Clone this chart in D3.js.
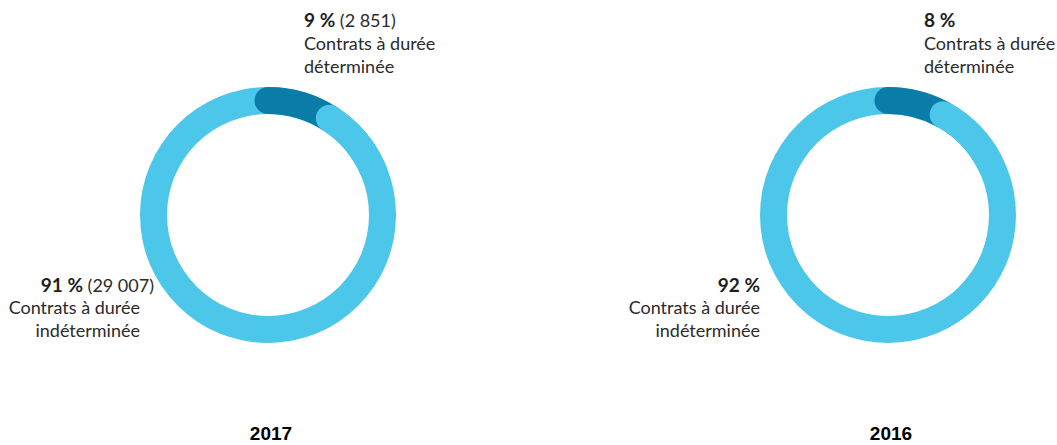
<!DOCTYPE html>
<html>
<head>
<meta charset="utf-8">
<script src="https://cdn.jsdelivr.net/npm/d3@7"></script>
<style>
  body { margin: 0; background: #fff; }
  svg { display: block; }
  .lbl { font-family: Lato, "Noto Sans", sans-serif; font-size: 18px; fill: #2b2b2b; }
  .lbl .pct { font-weight: 700; font-size: 19px; fill: #1e1e1e; }
  .year { font-family: "Liberation Sans", Arial, sans-serif; font-weight: 700; font-size: 19px; fill: #000; }
</style>
</head>
<body>
<div id="chart"></div>
<script>
// data
const years = ["2017", "2016"];
const categories = ["Contrats à durée déterminée", "Contrats à durée indéterminée"];
const shares = [[9, 91], [8, 92]];          // %
const counts = [[2851, 29007], [null, null]]; // headcount, only shown for 2017

const width = 1057, height = 445;
const colors = ["#0a7ca8", "#4cc6e9"];

const svg = d3.select("#chart").append("svg")
    .attr("width", width)
    .attr("height", height);

const x = d3.scalePoint().domain(years).range([268, 888]);
const cy = 215;
const outerR = 128, innerR = 101;
const midR = (outerR + innerR) / 2, ringW = outerR - innerR;

const pie = d3.pie().sort(null).value(d => d);
const ringArc = d3.arc().innerRadius(innerR).outerRadius(outerR);

// stroked arc along the middle radius (angles clockwise from 12 o'clock)
function midArc(a0, a1) {
    const p = d3.path();
    p.arc(0, 0, midR, a0 - Math.PI / 2, a1 - Math.PI / 2);
    return p.toString();
}

const fmt = n => d3.format(",")(n).replace(/,/g, " ");

years.forEach((yr, i) => {
    const g = svg.append("g").attr("transform", `translate(${x(yr)},${cy})`);
    const slices = pie(shares[i]);
    const fixed = slices[0], indef = slices[1];

    // full light ring underneath
    g.append("path")
        .attr("d", ringArc({ startAngle: 0, endAngle: 2 * Math.PI }))
        .attr("fill", colors[1]);

    // dark slice with round caps
    g.append("path")
        .attr("d", midArc(fixed.startAngle, fixed.endAngle))
        .attr("fill", "none")
        .attr("stroke", colors[0])
        .attr("stroke-width", ringW)
        .attr("stroke-linecap", "round");

    // light slice overlapping the dark end with its round cap
    g.append("path")
        .attr("d", midArc(indef.startAngle, indef.startAngle + 0.6))
        .attr("fill", "none")
        .attr("stroke", colors[1])
        .attr("stroke-width", ringW)
        .attr("stroke-linecap", "round");

    // top label (fixed-term)
    const tx = x(yr) + 36;
    const t1 = svg.append("text").attr("class", "lbl")
        .attr("x", tx).attr("y", 27);
    t1.append("tspan").attr("class", "pct").text(shares[i][0] + " %");
    if (counts[i][0] != null) t1.append("tspan").text(" (" + fmt(counts[i][0]) + ")");
    svg.append("text").attr("class", "lbl").attr("x", tx).attr("y", 50).text("Contrats à durée");
    svg.append("text").attr("class", "lbl").attr("x", tx).attr("y", 73).text("déterminée");

    // left label (permanent)
    const lx = x(yr) - 128;
    const t2 = svg.append("text").attr("class", "lbl")
        .attr("x", counts[i][1] != null ? lx + 14 : lx).attr("y", 292).attr("text-anchor", "end");
    t2.append("tspan").attr("class", "pct").text(shares[i][1] + " %");
    if (counts[i][1] != null) t2.append("tspan").text(" (" + fmt(counts[i][1]) + ")");
    svg.append("text").attr("class", "lbl").attr("x", lx).attr("y", 314)
        .attr("text-anchor", "end").text("Contrats à durée");
    svg.append("text").attr("class", "lbl").attr("x", lx).attr("y", 337)
        .attr("text-anchor", "end").text("indéterminée");

    // year
    svg.append("text").attr("class", "year")
        .attr("x", x(yr) + 3).attr("y", 440)
        .attr("text-anchor", "middle")
        .text(yr);
});
</script>
</body>
</html>
